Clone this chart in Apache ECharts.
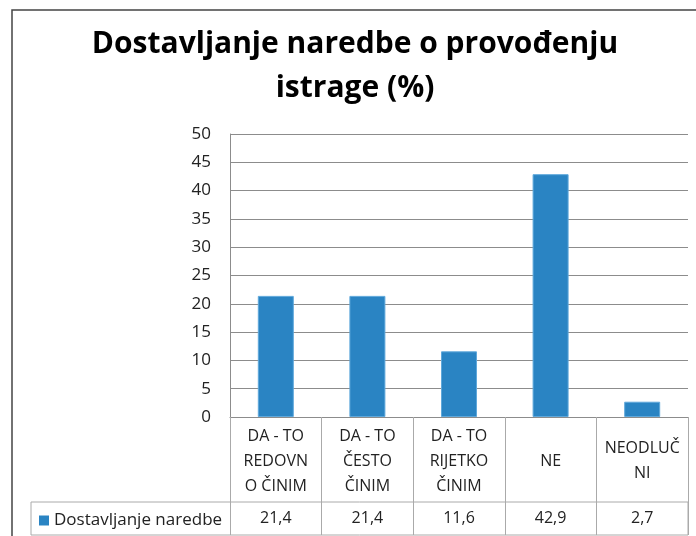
<!DOCTYPE html>
<html>
<head>
<meta charset="utf-8">
<script src="https://cdn.jsdelivr.net/npm/echarts@6/dist/echarts.min.js"></script>
<style>
html,body{margin:0;padding:0;background:#fff;}
#chart{width:696px;height:536px;}
</style>
</head>
<body>
<div id="chart"></div>
<script>
const titleText = 'Dostavljanje naredbe o provođenju\nistrage (%)';
const seriesName = 'Dostavljanje naredbe';
const categories = ['DA - TO\nREDOVN\nO ČINIM', 'DA - TO\nČESTO\nČINIM', 'DA - TO\nRIJETKO\nČINIM', 'NE', 'NEODLUČ\nNI'];
const values = [21.4, 21.4, 11.6, 42.9, 2.7];
const yTicks = { min: 0, max: 50, interval: 5 };

const FONT = 'Open Sans';
const chart = echarts.init(document.getElementById('chart'), null, { renderer: 'canvas' });

chart.setOption({
  animation: false,
  backgroundColor: '#fff',
  title: {
    text: titleText,
    left: 350,
    top: 17,
    textAlign: 'center',
    textStyle: { fontFamily: FONT, fontWeight: 'bold', fontSize: 30, color: '#000', lineHeight: 44 }
  },
  legend: {
    data: [seriesName],
    left: 34,
    top: 507,
    icon: 'rect',
    itemWidth: 10,
    itemHeight: 10,
    itemGap: 0,
    itemStyle: { borderWidth: 0 },
    textStyle: { fontFamily: FONT, fontSize: 17, color: '#222' },
    selectedMode: false
  },
  grid: [
    { left: 230, right: 8, top: 134, bottom: 119 },
    { left: 230, right: 8, top: 502, height: 33 }
  ],
  xAxis: [
    {
      type: 'category', gridIndex: 0, data: categories,
      axisLine: { show: true, lineStyle: { color: '#8c8c8c', width: 1 } },
      axisTick: { show: true, interval: 0, length: 85, lineStyle: { color: '#aaa' } },
      axisLabel: { interval: 0, margin: 44, verticalAlign: 'middle', lineHeight: 25,
        fontFamily: FONT, fontSize: 16, color: '#222' }
    },
    {
      type: 'category', gridIndex: 1, data: categories, position: 'top',
      axisLine: { show: false },
      axisTick: { show: false },
      splitLine: { show: true, interval: 0, lineStyle: { color: '#aaa' } },
      axisLabel: { interval: 0, inside: true, margin: 16, verticalAlign: 'middle',
        fontFamily: FONT, fontSize: 16, color: '#222',
        formatter: function (v, i) { return String(values[i]).replace('.', ','); } }
    }
  ],
  yAxis: [
    {
      type: 'value', gridIndex: 0, min: yTicks.min, max: yTicks.max, interval: yTicks.interval,
      axisLine: { show: true, lineStyle: { color: '#8c8c8c' } },
      axisTick: { show: false },
      splitLine: { show: true, lineStyle: { color: '#8c8c8c' } },
      axisLabel: { margin: 19, fontFamily: FONT, fontSize: 17, color: '#222' }
    },
    { type: 'value', gridIndex: 1, show: false, splitLine: { show: false } }
  ],
  series: [
    {
      name: seriesName, type: 'bar', xAxisIndex: 0, yAxisIndex: 0,
      data: values, barWidth: 36,
      itemStyle: { color: '#2a84c3', borderColor: '#5fa8db', borderWidth: 1 }
    }
  ],
  graphic: [
    { type: 'rect', shape: { x: 31, y: 502, width: 657, height: 33 }, style: { fill: 'none', stroke: '#aaa', lineWidth: 1 }, z: 10, silent: true },
    { type: 'rect', shape: { x: 12, y: 10, width: 700, height: 540 }, style: { fill: 'none', stroke: '#444', lineWidth: 1.5 }, z: 10, silent: true }
  ]
});
</script>
</body>
</html>
